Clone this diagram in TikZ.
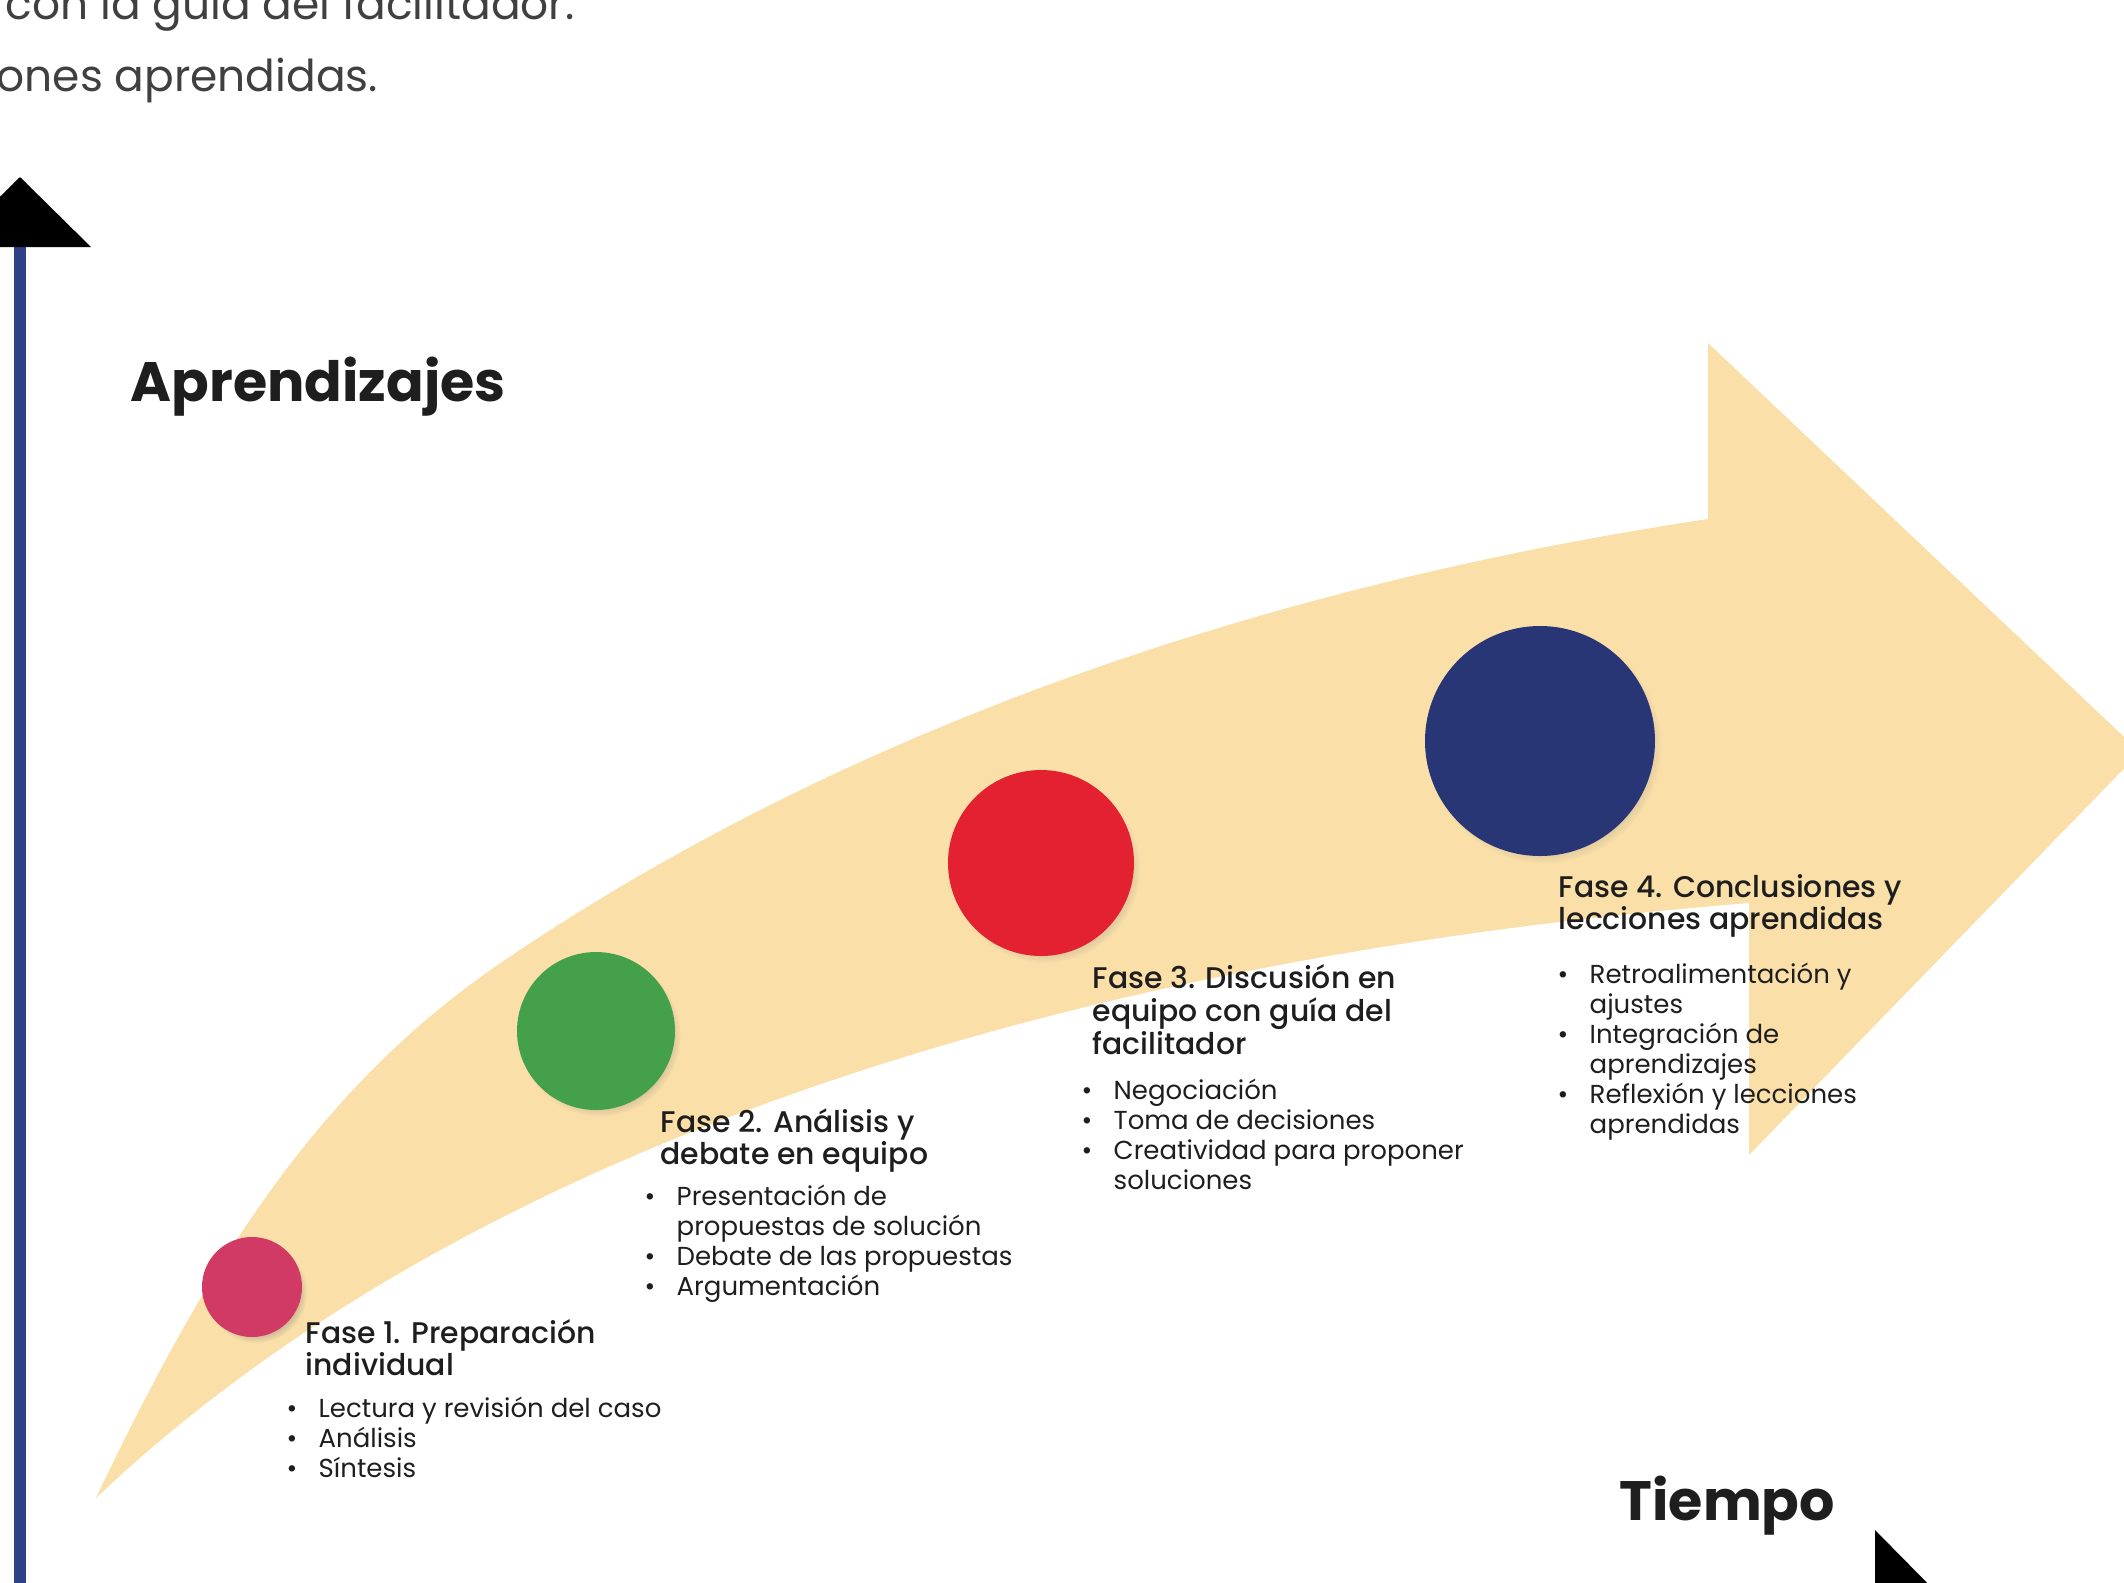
\documentclass[tikz,border=0pt]{standalone}
\usepackage{fontspec}
\setmainfont{Poppins}
\newfontfamily\fasefont{Poppins Medium}
\usepackage{tkz-euclide}
\usetikzlibrary{shadows}
\tikzset{>=stealth}

\definecolor{crema}{HTML}{FADFA8}
\definecolor{rosa}{HTML}{D23A66}
\definecolor{verde}{HTML}{44A04B}
\definecolor{rojo}{HTML}{E32131}
\definecolor{marino}{HTML}{283676}
\definecolor{ejeazul}{HTML}{2E4186}
\definecolor{texto}{HTML}{1E1E1E}

\newcommand{\renglones}[1]{\begin{tabular}[t]{@{}l@{}}#1\end{tabular}}
\newcommand{\punto}{\makebox[3.2mm][l]{\textbullet}}
\newcommand{\sigue}{\hspace*{3.2mm}}

\tikzset{
  etapa/.style={circle, fill=#1, inner sep=0pt,
    circular drop shadow={shadow xshift=0.4mm, shadow yshift=-0.5mm,
      shadow scale=1.02, opacity=0.35}},
  titulo/.style={anchor=base west, inner sep=0pt, text=texto,
    font=\fasefont\fontsize{8.5pt}{9.25pt}\selectfont},
  lista/.style={anchor=base west, inner sep=0pt, text=texto,
    font=\fontsize{7.4pt}{8.54pt}\selectfont},
  rotulo/.style={anchor=base west, inner sep=0pt, text=texto,
    font=\bfseries\fontsize{15.8pt}{19pt}\selectfont},
  parrafo/.style={anchor=base west, inner sep=0pt, text=texto!85!white,
    font=\fontsize{12.5pt}{15pt}\selectfont},
  eje/.style={line width=1.2mm, draw=ejeazul}
}

\begin{document}
\begin{tikzpicture}[x=0.1mm, y=-0.1mm]
    \useasboundingbox (0,0) rectangle (2124,1582);
    \clip (0,0) rectangle (2124,1582);
    \tkzDefPoints{96/1498/O, 502/962/M, 1708/519/S, 1708/343/H, 2140/752/T,
      1749/1155/K, 1749/903/L}
    \tkzDefPoints{20/1620/E, 20/247/Y, -51/247/Y1, 91/247/Y2, 20/177/Y3,
      1875/1530/X1, 1875/1672/X2, 1945/1601/X3}
  % flecha curva
    \fill[crema] (O) .. controls (208,1263) and (317,1088) .. (M)
      .. controls (858,720) and (1283,583) .. (S)
      -- (H) -- (T) -- (K) -- (L)
      .. controls (1051,959) and (458,1154) .. (O) -- cycle;
  % ejes
    \draw[eje] (E) -- (Y);
    \fill[black] (Y1) -- (Y2) -- (Y3) -- cycle;
    \fill[black] (X1) -- (X3) -- (X2) -- cycle;
  % fases
    \node[etapa=rosa, minimum size=10mm] (C1) at (252,1287) {};
    \node[etapa=verde, minimum size=15.8mm] (C2) at (596,1031) {};
    \node[etapa=rojo, minimum size=18.6mm] (C3) at (1041,863) {};
    \node[etapa=marino, minimum size=23mm] (C4) at (1540,741) {};
  % textos
    \node[parrafo] (P1) at (5,19) {con la guía del facilitador.};
    \node[parrafo] (P2) at (-4,91) {ones aprendidas.};
    \node[rotulo] (Ap) at (130,401) {Aprendizajes};
    \node[rotulo] (Ti) at (1619,1520) {Tiempo};
    \node[titulo] (F1) at (305,1343) {\renglones{Fase 1. Preparación\\individual}};
    \node[lista] (B1) at (286,1417) {\renglones{\punto Lectura y revisión del caso\\
      \punto Análisis\\ \punto Síntesis}};
    \node[titulo] (F2) at (660,1132) {\renglones{Fase 2. Análisis y\\debate en equipo}};
    \node[lista] (B2) at (644,1205) {\renglones{\punto Presentación de\\
      \sigue propuestas de solución\\ \punto Debate de las propuestas\\
      \punto Argumentación}};
    \node[titulo] (F3) at (1092,988) {\renglones{Fase 3. Discusión en\\
      equipo con guía del\\facilitador}};
    \node[lista] (B3) at (1081,1099) {\renglones{\punto Negociación\\
      \punto Toma de decisiones\\ \punto Creatividad para proponer\\
      \sigue soluciones}};
    \node[titulo] (F4) at (1558,897) {\renglones{Fase 4. Conclusiones y\\
      lecciones aprendidas}};
    \node[lista] (B4) at (1557,983) {\renglones{\punto Retroalimentación y\\
      \sigue ajustes\\ \punto Integración de\\ \sigue aprendizajes\\
      \punto Reflexión y lecciones\\ \sigue aprendidas}};
\end{tikzpicture}
\end{document}
